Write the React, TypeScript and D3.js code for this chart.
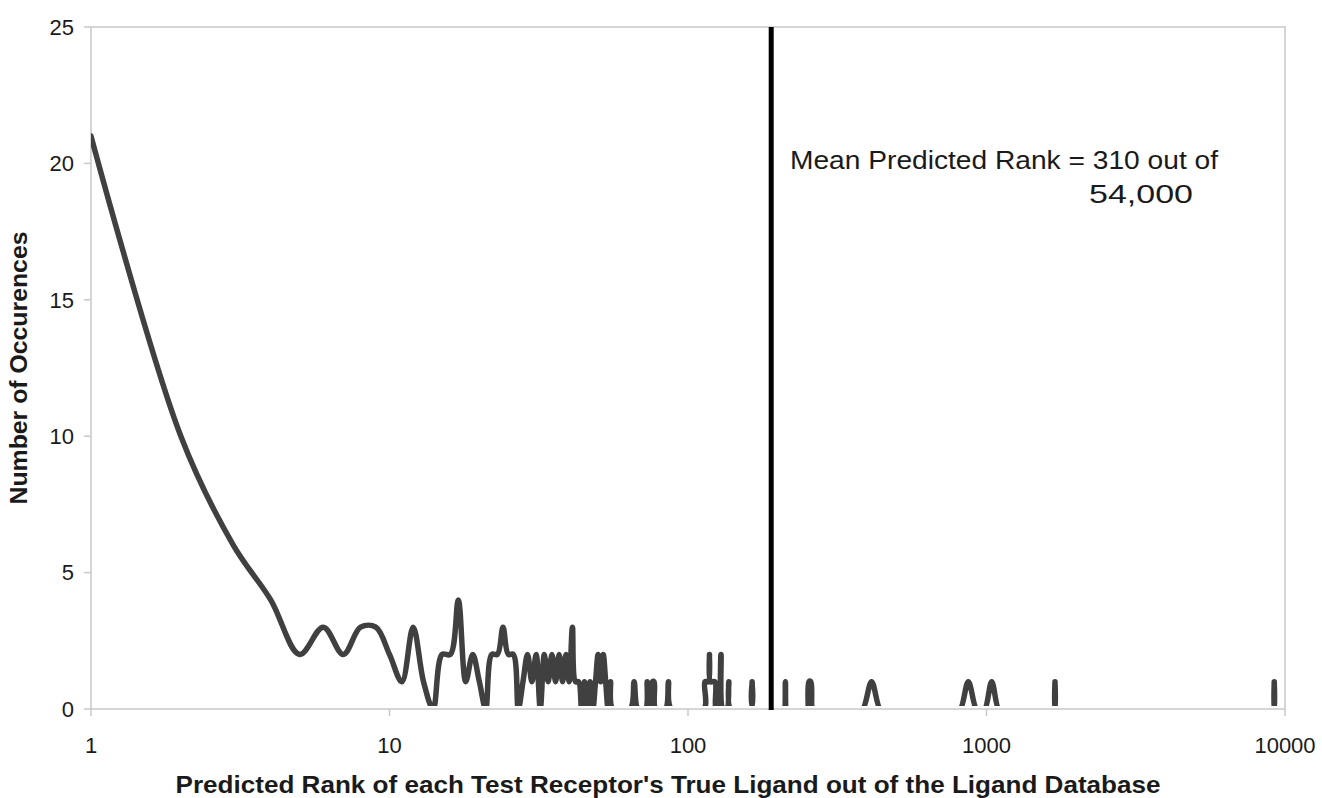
import React from "react";
import * as d3 from "d3";

// ---- data ----
const ranks = [
  1, 2, 3, 4, 5, 6, 7, 8, 9, 10, 11, 12, 13, 14, 15, 16, 17, 18, 19, 20,
  21, 22, 23, 24, 25, 26, 27, 28, 29, 30, 31, 32, 33, 34, 35, 36, 37, 38, 39, 40,
  41, 42, 43, 44, 45, 46, 47, 48, 49, 50, 51, 52, 53, 54, 55, 56,
  64, 66, 68, 72, 73, 74, 76, 77, 78, 84, 86, 88,
  113, 114, 117, 118, 119, 123, 124, 126, 129, 131, 135, 137, 139,
  162, 164, 166, 208, 210, 212, 214, 216, 248, 251, 254, 258, 261, 264,
  370, 385, 412, 440, 455, 790, 817, 869, 925, 950, 960, 987, 1041, 1098, 1130,
  1680, 1693, 1696, 1699, 1712, 9150, 9195, 9204, 9213, 9250,
];
const counts = [
  21, 10, 6, 4, 2, 3, 2, 3, 3, 2, 1, 3, 1, 0, 2, 2, 4, 1, 2, 1,
  0, 2, 2, 3, 2, 2, 0, 1, 2, 1, 2, 0, 2, 1, 2, 1, 2, 1, 2, 1,
  3, 1, 1, 0, 1, 0, 1, 0, 1, 2, 1, 2, 1, 0, 1, 0,
  0, 1, 0, 0, 1, 0, 1, 1, 0, 0, 1, 0,
  0, 1, 1, 2, 1, 1, 0, 0, 2, 0, 0, 1, 0,
  0, 1, 0, 0, 0, 1, 0, 0, 0, 0, 1, 1, 0, 0,
  0, 0, 1, 0, 0, 0, 0, 1, 0, 0, 0, 0, 1, 0, 0,
  0, 0, 1, 0, 0, 0, 0, 1, 0, 0,
];
const xTickValues = [1, 10, 100, 1000, 10000];
const yTickValues = [0, 5, 10, 15, 20, 25];
const meanLineRank = 190;
const annotationLines = ["Mean Predicted Rank = 310 out of", "54,000"];
const xTitle =
  "Predicted Rank of each Test Receptor's True Ligand out of the Ligand Database";
const yTitle = "Number of Occurences";

// ---- layout ----
const W = 1322;
const H = 798;
const M = { left: 91, right: 1285, top: 27, bottom: 709 };
const FONT = "'Liberation Sans', Arial, sans-serif";

export default function App() {
  const x = d3.scaleLog().domain([1, 10000]).range([M.left, M.right]);
  const y = d3.scaleLinear().domain([0, 25]).range([M.bottom, M.top]);
  const pts: [number, number][] = ranks.map((r, i) => [r, counts[i]]);
  const line = d3
    .line<[number, number]>()
    .x((d) => x(d[0]))
    .y((d) => y(d[1]))
    .curve(d3.curveCatmullRom.alpha(0.5));
  const path = line(pts) || "";
  const gridColor = "#c8c8c8";
  const textColor = "#1a1a1a";

  return (
    <svg
      width={W}
      height={H}
      style={{ position: "absolute", left: 0, top: 0, background: "#fff" }}
    >
      <defs>
        <clipPath id="plotClip">
          <rect
            x={M.left}
            y={M.top}
            width={M.right - M.left}
            height={y(0) - 3 - M.top}
          />
        </clipPath>
      </defs>
      {/* plot frame */}
      <rect
        x={M.left}
        y={M.top}
        width={M.right - M.left}
        height={M.bottom - M.top}
        fill="none"
        stroke={gridColor}
        strokeWidth={1.5}
      />
      {/* y ticks */}
      {yTickValues.map((v) => (
        <g key={"y" + v}>
          <line x1={M.left - 7} x2={M.left} y1={y(v)} y2={y(v)} stroke={gridColor} strokeWidth={1.5} />
          <text
            x={M.left - 17}
            y={y(v)}
            dy="0.35em"
            textAnchor="end"
            fontFamily={FONT}
            fontSize={22}
            fill={textColor}
          >
            {v}
          </text>
        </g>
      ))}
      {/* x ticks */}
      {xTickValues.map((v) => (
        <g key={"x" + v}>
          <line x1={x(v)} x2={x(v)} y1={M.bottom} y2={M.bottom + 7} stroke={gridColor} strokeWidth={1.5} />
          <text
            x={x(v)}
            y={M.bottom + 36}
            dy="0.35em"
            textAnchor="middle"
            fontFamily={FONT}
            fontSize={22}
            fill={textColor}
          >
            {v}
          </text>
        </g>
      ))}
      {/* data line */}
      <g clipPath="url(#plotClip)">
        <path
          d={path}
          fill="none"
          stroke="#404040"
          strokeWidth={5.5}
          strokeLinejoin="round"
          strokeLinecap="round"
        />
      </g>
      {/* mean line */}
      <line
        x1={x(meanLineRank)}
        x2={x(meanLineRank)}
        y1={M.top}
        y2={M.bottom + 1}
        stroke="#000"
        strokeWidth={5}
      />
      {/* annotation */}
      <text x={790} y={169} fontFamily={FONT} fontSize={26} fill={textColor} textLength={428} lengthAdjust="spacingAndGlyphs">
        {annotationLines[0]}
      </text>
      <text x={1089} y={203} fontFamily={FONT} fontSize={26} fill={textColor} textLength={104} lengthAdjust="spacingAndGlyphs">
        {annotationLines[1]}
      </text>
      {/* axis titles */}
      <text
        x={668}
        y={793}
        textAnchor="middle"
        fontFamily={FONT}
        fontWeight="bold"
        fontSize={24}
        fill={textColor}
        textLength={985}
        lengthAdjust="spacingAndGlyphs"
      >
        {xTitle}
      </text>
      <text
        transform={`translate(27, ${(M.top + M.bottom) / 2}) rotate(-90)`}
        textAnchor="middle"
        fontFamily={FONT}
        fontWeight="bold"
        fontSize={24}
        fill={textColor}
        textLength={273}
        lengthAdjust="spacingAndGlyphs"
      >
        {yTitle}
      </text>
    </svg>
  );
}
